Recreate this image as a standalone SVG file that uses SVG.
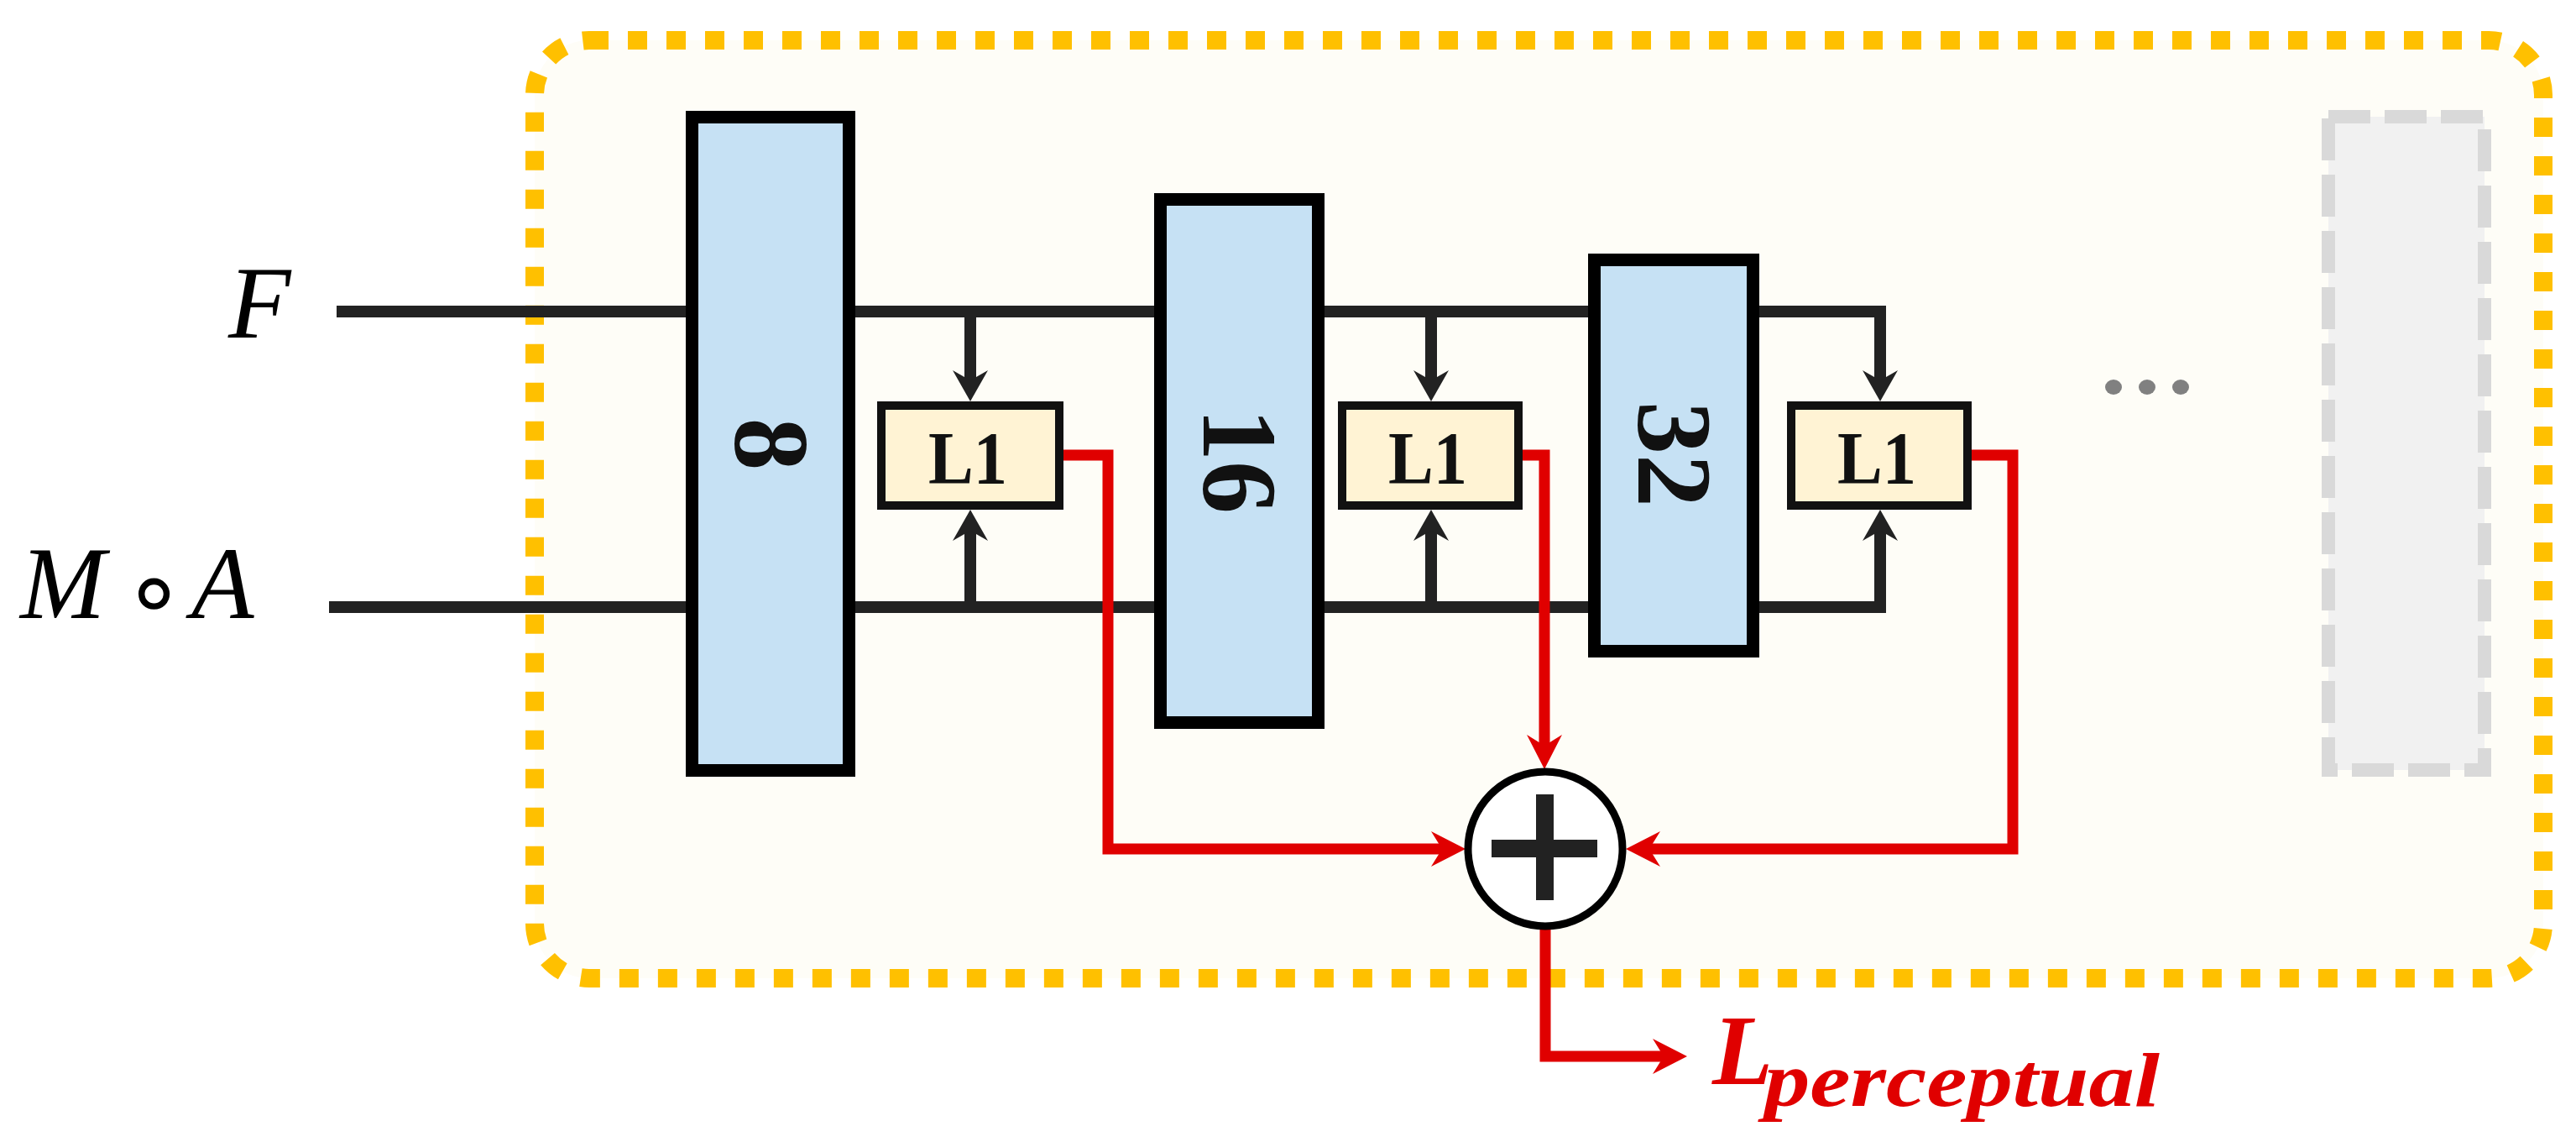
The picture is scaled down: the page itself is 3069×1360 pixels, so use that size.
<svg xmlns="http://www.w3.org/2000/svg" width="3069" height="1360" viewBox="0 0 3069 1360">
<style>
.blk{fill:#c6e1f4;stroke:#000;stroke-width:15}
.l1{fill:#fff3d4;stroke:#111;stroke-width:10}
.l1t{font-family:"Liberation Serif",serif;font-weight:bold;font-size:88px;fill:#111;text-anchor:middle}
.num{font-family:"Liberation Serif",serif;font-weight:bold;font-size:126px;fill:#111;text-anchor:middle}
.wire{fill:none;stroke:#222;stroke-width:14}
.red{fill:none;stroke:#e00000;stroke-width:13}
.math{font-family:"Liberation Serif",serif;font-style:italic;font-size:122px;fill:#000}
</style>
<defs>
<marker id="ab" markerUnits="userSpaceOnUse" markerWidth="60" markerHeight="60" viewBox="-20 -30 60 60" refX="0" refY="0" orient="auto">
<path d="M25,0 L-12,-21 L0,0 L-12,21 Z" fill="#222"/>
</marker>
<marker id="ar" markerUnits="userSpaceOnUse" markerWidth="60" markerHeight="60" viewBox="-20 -30 60 60" refX="0" refY="0" orient="auto">
<path d="M28,0 L-13,-21 L0,0 L-13,21 Z" fill="#e00000"/>
</marker>
</defs>
<rect width="3069" height="1360" fill="#fff"/>
<g id="container">
<rect x="637" y="48" width="2393" height="1117" rx="65" fill="#fefdf7" stroke="#ffc000" stroke-width="22" stroke-dasharray="23 23"/>
</g>
<g id="connectors">
<path class="wire" d="M401,371 H2240 V453" marker-end="url(#ab)"/>
<path class="wire" d="M392,723 H2240 V632" marker-end="url(#ab)"/>
<path class="wire" d="M1156,371 V453" marker-end="url(#ab)"/>
<path class="wire" d="M1156,723 V632" marker-end="url(#ab)"/>
<path class="wire" d="M1705,371 V453" marker-end="url(#ab)"/>
<path class="wire" d="M1705,723 V632" marker-end="url(#ab)"/>
<path class="red" d="M1262,542 H1320 V1011 H1718" marker-end="url(#ar)"/>
<path class="red" d="M1809,542 H1840 V888" marker-end="url(#ar)"/>
<path class="red" d="M2344,542 H2398 V1011 H1965" marker-end="url(#ar)"/>
<path class="red" d="M1841,1100 V1258 H1982" marker-end="url(#ar)"/>
</g>
<g id="block8">
<rect class="blk" x="824.5" y="139.5" width="187" height="778"/>
<text class="num" transform="translate(918,529) rotate(90)" x="0" y="42">8</text>
</g>
<g id="block16">
<rect class="blk" x="1382.5" y="237.5" width="188" height="623"/>
<text class="num" transform="translate(1476,549) rotate(90)" x="0" y="42">16</text>
</g>
<g id="block32">
<rect class="blk" x="1899.5" y="309.5" width="189" height="466"/>
<text class="num" transform="translate(1994,541) rotate(90)" x="0" y="42">32</text>
</g>
<g id="l1a">
<rect class="l1" x="1050" y="483" width="212" height="119"/>
<text class="l1t" x="1153" y="575" textLength="94" lengthAdjust="spacingAndGlyphs">L1</text>
</g>
<g id="l1b">
<rect class="l1" x="1599" y="483" width="210" height="119"/>
<text class="l1t" x="1701" y="575" textLength="94" lengthAdjust="spacingAndGlyphs">L1</text>
</g>
<g id="l1c">
<rect class="l1" x="2134" y="483" width="210" height="119"/>
<text class="l1t" x="2236" y="575" textLength="94" lengthAdjust="spacingAndGlyphs">L1</text>
</g>
<g id="sum">
<circle cx="1841" cy="1011" r="92" fill="#fff" stroke="#000" stroke-width="9"/>
<rect x="1777" y="1000" width="126" height="21" fill="#222"/>
<rect x="1830" y="946" width="21" height="126" fill="#222"/>
</g>
<g id="ellipsis">
<ellipse cx="2518" cy="461" rx="10" ry="9" fill="#808080"/>
<ellipse cx="2558" cy="461" rx="10" ry="9" fill="#808080"/>
<ellipse cx="2598" cy="461" rx="10" ry="9" fill="#808080"/>
</g>
<g id="next-block">
<rect x="2774" y="139" width="186" height="778" fill="#f1f1f1" stroke="#d9d9d9" stroke-width="16" stroke-dasharray="50 17"/>
</g>
<g id="input-F">
<text class="math" x="272" y="402">F</text>
</g>
<g id="input-MA">
<text class="math" y="736"><tspan x="24">M</tspan><tspan x="146" y="745" font-style="normal" font-family="DejaVu Sans, sans-serif" font-size="120">∘</tspan><tspan x="228" y="736">A</tspan></text>
</g>
<g id="output">
<text font-family="Liberation Serif, serif" font-style="italic" font-weight="bold" fill="#e00000"><tspan x="2040" y="1291" font-size="118">L</tspan><tspan x="2102" y="1317" font-size="90" textLength="471" lengthAdjust="spacingAndGlyphs">perceptual</tspan></text>
</g>
</svg>
